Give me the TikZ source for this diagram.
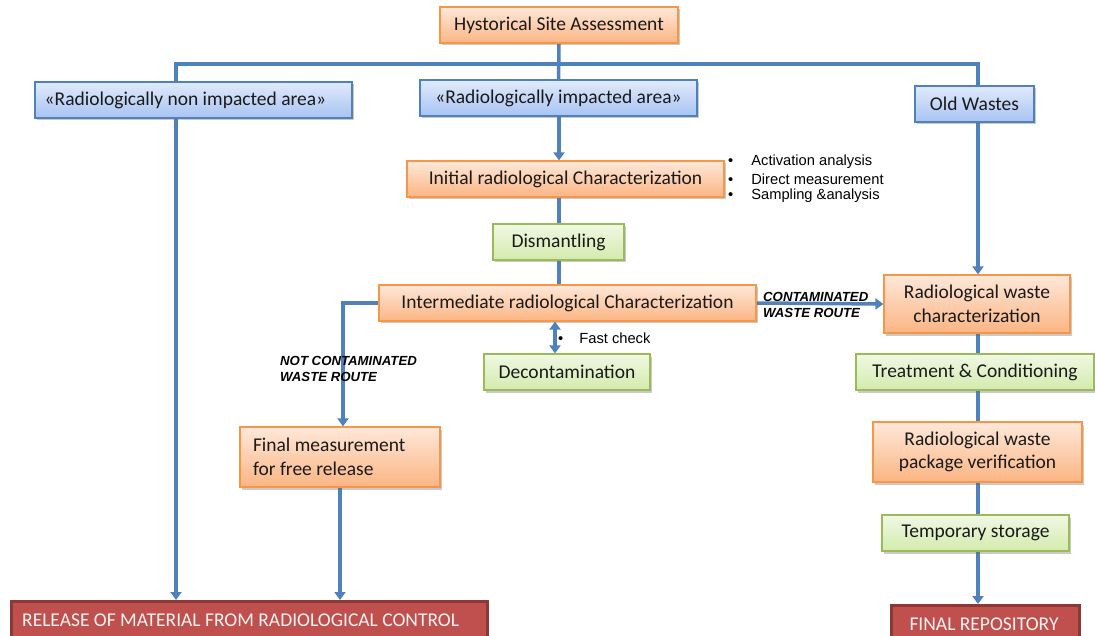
\documentclass[tikz,border=0pt]{standalone}
\usepackage{fontspec}
\setmainfont{Carlito}
\newfontfamily\arialfont{Liberation Sans}
\usetikzlibrary{shadows,arrows.meta,backgrounds}

\definecolor{lineblue}{HTML}{4F81BD}
\definecolor{orangeborder}{HTML}{F79646}
\definecolor{orangetop}{HTML}{FFE8D9}
\definecolor{orangebot}{HTML}{FBB583}
\definecolor{blueborder}{HTML}{4F81BD}
\definecolor{bluetop}{HTML}{E1EAFB}
\definecolor{bluebot}{HTML}{A8C3F3}
\definecolor{greenborder}{HTML}{9BBB59}
\definecolor{greentop}{HTML}{F0F8E4}
\definecolor{greenbot}{HTML}{D3EBAC}
\definecolor{redfill}{HTML}{C0504D}
\definecolor{redborder}{HTML}{8C3836}
\definecolor{textdark}{HTML}{1A1A1A}

\tikzset{
  x=1pt, y=-1pt,
  box/.style={draw, line width=1.2pt, inner sep=0pt, align=center,
    font=\fontsize{19.5}{23.5}\selectfont, text=textdark,
    drop shadow={shadow xshift=2pt, shadow yshift=-2.5pt, opacity=0.35, fill=black!60}},
  orangebox/.style={box, draw=orangeborder, top color=orangetop, bottom color=orangebot},
  bluebox/.style={box, draw=blueborder, top color=bluetop, bottom color=bluebot},
  greenbox/.style={box, draw=greenborder, top color=greentop, bottom color=greenbot},
  redbox/.style={draw=redborder, line width=2.5pt, fill=redfill, inner sep=0pt, anchor=north west},
  redtext/.style={inner sep=0pt, text=white!95!black, font=\fontsize{19.5}{23.5}\selectfont},
  conn/.style={draw=lineblue, line width=3.5pt},
  arr/.style={conn, -{Triangle[width=11pt,length=8pt]}},
  barr/.style={conn, {Triangle[width=11pt,length=8pt]}-{Triangle[width=11pt,length=8pt]}},
  note/.style={font=\arialfont\fontsize{14.7}{17}\selectfont, anchor=west, inner sep=0pt},
  route/.style={font=\arialfont\bfseries\itshape\fontsize{13.2}{16}\selectfont,
    anchor=north west, inner sep=0pt, align=flush left},
}

\begin{document}
\begin{tikzpicture}
\useasboundingbox (0,0) rectangle (1095,636);

% top level
\node[orangebox, minimum width=238pt, minimum height=36pt] (hsa) at (559,25) {Hystorical Site Assessment};
\node[bluebox, minimum width=317pt, minimum height=36pt] (nonimp) at (193.5,100) {\hspace*{-16pt}«Radiologically non impacted area»};
\node[bluebox, minimum width=277pt, minimum height=36pt] (imp) at (558.5,98) {«Radiologically impacted area»};
\node[bluebox, minimum width=119pt, minimum height=36pt] (old) at (974.5,104) {Old Wastes};

% central column
\node[orangebox, minimum width=317pt, minimum height=36pt] (init) at (565.5,179) {Initial radiological Characterization};
\node[greenbox, minimum width=131pt, minimum height=36pt] (dism) at (558.5,242) {Dismantling};
\node[orangebox, minimum width=377pt, minimum height=36pt] (inter) at (567.5,303) {Intermediate radiological Characterization};
\node[greenbox, minimum width=166pt, minimum height=36pt] (decon) at (567,372) {Decontamination};
\node[orangebox, minimum width=200pt, minimum height=60pt, text width=174pt, align=flush left] (final) at (340,457) {Final measurement\\for free release};

% right column
\node[orangebox, minimum width=186pt, minimum height=58pt] (rwc) at (977,304) {Radiological waste\\characterization};
\node[greenbox, minimum width=238pt, minimum height=36pt] (treat) at (975,372) {Treatment \& Conditioning};
\node[orangebox, minimum width=209pt, minimum height=60pt] (pkg) at (977.5,452) {Radiological waste\\package verification};
\node[greenbox, minimum width=187pt, minimum height=36pt] (temp) at (975.5,533) {Temporary storage};

% end points
\node[redbox, minimum width=476pt, minimum height=50pt] (rel) at (10,600) {};
\node[redtext, anchor=west] (reltext) at (22,620) {RELEASE OF MATERIAL FROM RADIOLOGICAL CONTROL};
\node[redbox, minimum width=188pt, minimum height=50pt] (repo) at (890,604) {};
\node[redtext] (repotext) at (984,624) {FINAL REPOSITORY};

% side notes
\node[note] (n1) at (728,162) {\textbullet\hspace{18pt}Activation analysis};
\node[note] (n2) at (728,179) {\textbullet\hspace{18pt}Direct measurement};
\node[note] (n3) at (728,196) {\textbullet\hspace{18pt}Sampling \&analysis};
\node[note] (fc) at (558,338) {\textbullet\hspace{16pt}Fast check};
\node[route] (cwr) at (763,292) {CONTAMINATED\\WASTE ROUTE};
\node[route] (ncwr) at (280,356) {NOT CONTAMINATED\\WASTE ROUTE};

% connectors
\coordinate (tl) at (176,64);
\coordinate (tr) at (978,64);
\coordinate (bendL) at (343,303);
\begin{scope}[on background layer]
  \draw[conn] (hsa.south) -- (imp.north);
  \draw[conn, line cap=rect] (tl) -- (tr);
  \draw[arr] (tl) -- (tl |- rel.north);
  \draw[conn] (tr) -- (tr |- old.north);
  \draw[arr] (tr |- old.south) -- (tr |- rwc.north);
  \draw[arr] (imp.south -| hsa.south) -- (init.north -| hsa.south);
  \draw[conn] (init.south -| hsa.south) -- (dism.north -| hsa.south);
  \draw[conn] (dism.south -| hsa.south) -- (inter.north -| hsa.south);
  \draw[arr] (inter.west) -- (bendL) -- (bendL |- final.north);
  \draw[barr] (inter.south -| 555,0) -- (decon.north -| 555,0);
  \draw[arr] (inter.east) -- (rwc.west);
  \draw[arr] (final.south) -- (final.south |- rel.north);
  \draw[conn] (tr |- rwc.south) -- (tr |- treat.north);
  \draw[conn] (tr |- treat.south) -- (tr |- pkg.north);
  \draw[conn] (tr |- pkg.south) -- (tr |- temp.north);
  \draw[arr] (tr |- temp.south) -- (tr |- repo.north);
\end{scope}
\end{tikzpicture}
\end{document}
